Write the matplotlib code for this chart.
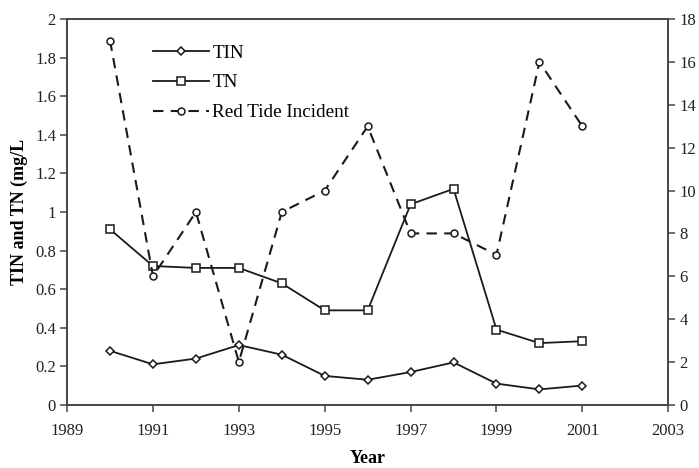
import matplotlib
matplotlib.use("Agg")
import matplotlib.pyplot as plt
from matplotlib.ticker import FuncFormatter

# dados
anos = [1990, 1991, 1992, 1993, 1994, 1995, 1996, 1997, 1998, 1999, 2000, 2001]
tin = [0.28, 0.21, 0.24, 0.31, 0.26, 0.15, 0.13, 0.17, 0.22, 0.11, 0.08, 0.10]
tn = [0.91, 0.72, 0.71, 0.71, 0.63, 0.49, 0.49, 1.04, 1.12, 0.39, 0.32, 0.33]
red_tide = [17, 6, 9, 2, 9, 10, 13, 8, 8, 7, 16, 13]

x_ticks = list(range(1989, 2004, 2))
y_ticks = [i / 10 for i in range(0, 21, 2)]
y2_ticks = list(range(0, 19, 2))

plt.rcParams['font.family'] = ['Liberation Serif', 'DejaVu Serif']
cor = "#1a1a1a"
cor_eixo = "#444444"

fig = plt.figure(figsize=(6.99, 4.68), dpi=100)
ax = fig.add_axes([0.096, 0.135, 0.86, 0.824])
ax2 = ax.twinx()

l1, = ax.plot(anos, tin, color=cor, lw=1.3, marker="D", ms=4.5,
              mfc="white", mec=cor, mew=1.1, label="TIN")
l2, = ax.plot(anos, tn, color=cor, lw=1.3, marker="s", ms=5.5,
              mfc="white", mec=cor, mew=1.1, label="TN")
l3, = ax2.plot(anos, red_tide, color=cor, lw=1.5, ls=(0, (5, 3.5)), marker="o",
               ms=5, mfc="white", mec=cor, mew=1.1, label="Red Tide Incident")

ax.set_xlim(1989, 2003)
ax.set_ylim(0, 2)
ax2.set_ylim(0, 18)
ax.set_xticks(x_ticks)
ax.set_yticks(y_ticks)
ax2.set_yticks(y2_ticks)
ax.yaxis.set_major_formatter(FuncFormatter(lambda v, p: f"{v:g}"))

for a in (ax, ax2):
    for s in a.spines.values():
        s.set_color(cor_eixo)
        s.set_linewidth(1.2)
    a.tick_params(direction="out", length=5, width=1.1, color=cor_eixo,
                  labelsize=12, labelcolor="#222222", pad=3)
ax.tick_params(axis="x", pad=8)

ax.set_ylabel("TIN and TN (mg/L", fontsize=13, fontweight="bold", labelpad=5)
ax.set_xlabel("Year", fontsize=13, fontweight="bold", labelpad=8)

ax.legend(handles=[l1, l2, l3], loc="upper left", bbox_to_anchor=(0.13, 0.955),
          frameon=False, fontsize=13.8, handlelength=2.9, handletextpad=0.2,
          labelspacing=0.65, borderaxespad=0)

fig.savefig("out.png", dpi=100)
